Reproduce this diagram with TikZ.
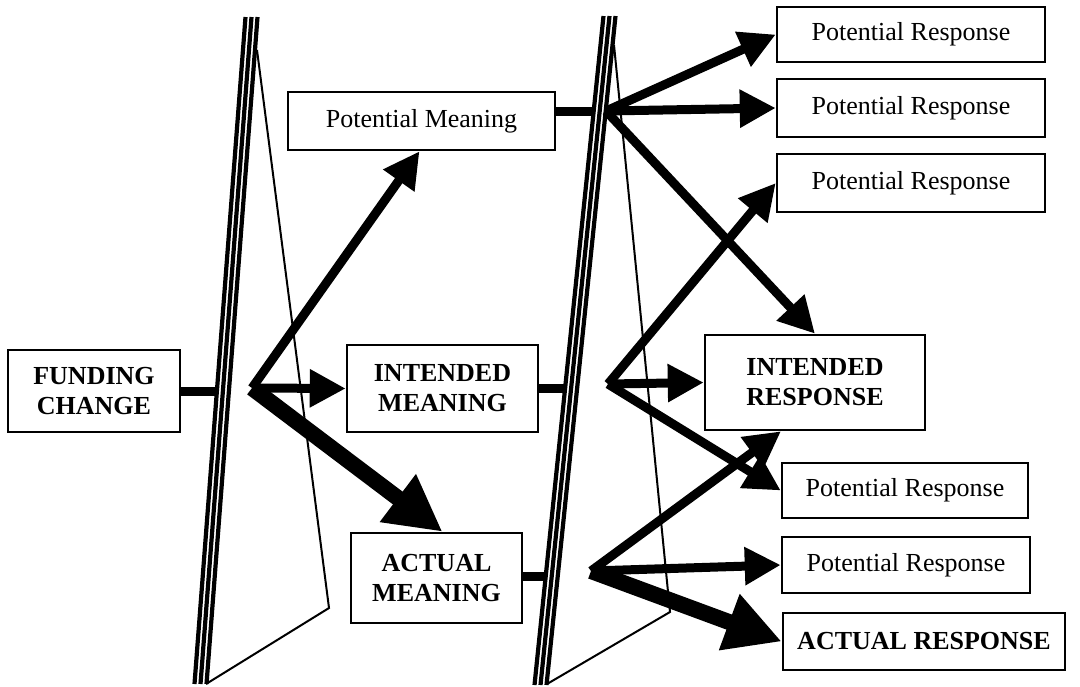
\documentclass[tikz,border=0pt]{standalone}
\usepackage{fontspec}
\setmainfont{Liberation Serif}
\usepackage{tikz}
\usetikzlibrary{arrows.meta}
\tikzstyle{block} = [rectangle, draw, line width=1.25pt, align=center,
    font=\fontsize{13}{15}\selectfont, inner sep=2pt]
\tikzstyle{caps} = [block, font=\fontsize{13}{15}\selectfont\bfseries]
\tikzstyle{lens} = [draw, line width=2.1pt]
\tikzstyle{rim} = [draw, line width=1pt]
\tikzset{
  line/.style ={draw, line width=4.5pt},
  arrow/.style ={draw, line width=4.5pt, -{Triangle[length=18pt,width=18pt]}},
  bigarrow/.style ={draw, line width=8pt, -{Triangle[length=28pt,width=28pt]}}
}

\begin{document}
\begin{tikzpicture}[x=0.5pt, y=-0.5pt]
   \useasboundingbox (0,0) rectangle (1080,686);
   \fill [white] (0,0) rectangle (1080,686);
   % the two filters
   \path [lens] (245.5,17) -- (194.5,684);
   \path [lens] (251.5,17) -- (200.5,684);
   \path [lens] (257.5,17) -- (206.5,684);
   \path [rim] (257,50) -- (329,608) -- (206,684);
   \path [lens] (603.5,16) -- (534.5,685);
   \path [lens] (609.5,16) -- (540.5,685);
   \path [lens] (615.5,16) -- (546.5,685);
   \path [rim] (614,45) -- (670,612) -- (547,684);
   % boxes
   \node [caps, minimum width=86pt, minimum height=41pt] (funding_change) at (94,391) {FUNDING\\CHANGE};
   \node [block, minimum width=133.5pt, minimum height=29pt] (potential_meaning) at (421.5,121) {Potential Meaning};
   \node [caps, minimum width=95.5pt, minimum height=43.5pt] (intended_meaning) at (442.5,388.5) {INTENDED\\MEANING};
   \node [caps, minimum width=85.5pt, minimum height=45pt] (actual_meaning) at (436.5,578) {ACTUAL\\MEANING};
   \node [block, minimum width=134pt, minimum height=27.5pt] (response_a) at (911,34.5) {Potential Response};
   \node [block, minimum width=134pt, minimum height=29pt] (response_b) at (911,108) {Potential Response};
   \node [block, minimum width=134pt, minimum height=29pt] (response_c) at (911,183) {Potential Response};
   \node [caps, minimum width=110pt, minimum height=47.5pt] (intended_response) at (815,382.5) {INTENDED\\RESPONSE};
   \node [block, minimum width=123pt, minimum height=27.5pt] (response_d) at (905,490.5) {Potential Response};
   \node [block, minimum width=124pt, minimum height=28pt] (response_e) at (906,565) {Potential Response};
   \node [caps, minimum width=141pt, minimum height=28.5pt] (actual_response) at (924,641.5) {ACTUAL RESPONSE};
   % forks behind the filters
   \coordinate (stop_funding) at (216,391);
   \coordinate (stop_potential) at (593,111);
   \coordinate (stop_intended) at (565,388.5);
   \coordinate (stop_actual) at (547,576);
   \coordinate (fork_left) at (252,388);
   \coordinate (fork_top) at (606,111);
   \coordinate (fork_mid) at (608,384);
   \coordinate (fork_low) at (591,571);
   \path [line] (funding_change.east) -- (stop_funding);
   \path [line] (potential_meaning.east |- stop_potential) -- (stop_potential);
   \path [line] (intended_meaning.east) -- (stop_intended);
   \path [line] (actual_meaning.east |- stop_actual) -- (stop_actual);
   \path [arrow] (fork_left) -- ([xshift=-1pt]potential_meaning.south);
   \path [arrow] (fork_left) -- (intended_meaning.west);
   \path [bigarrow] (fork_left) -- ([xshift=3pt]actual_meaning.north);
   \path [arrow] (fork_top) -- (response_a.west);
   \path [arrow] (fork_top) -- (response_b.west);
   \path [arrow] (fork_top) -- (intended_response.north);
   \path [arrow] (fork_mid) -- (response_c.west);
   \path [arrow] (fork_mid) -- (intended_response.west);
   \path [arrow] (fork_mid) -- (response_d.west);
   \path [arrow] (fork_low) -- ([xshift=-17pt]intended_response.south);
   \path [arrow] (fork_low) -- (response_e.west);
   \path [bigarrow] (fork_low) -- (actual_response.west);
\end{tikzpicture}
\end{document}
